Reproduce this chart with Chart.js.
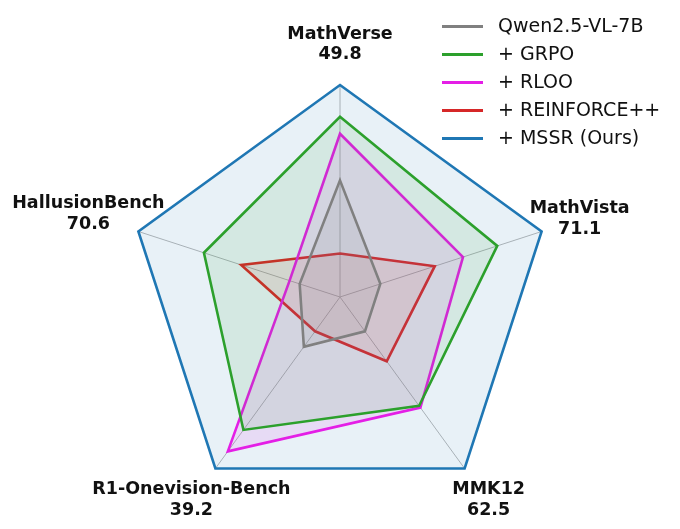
<!DOCTYPE html>
<html>
<head>
<meta charset="utf-8">
<script src="https://cdn.jsdelivr.net/npm/chart.js@4.4.1/dist/chart.umd.min.js"></script>
<style>
  html, body { margin: 0; padding: 0; background: #fff; }
  #wrap { position: relative; width: 680px; height: 529px; }
  #legend {
    position: absolute; left: 442px; top: 11px;
    font-family: "DejaVu Sans", sans-serif; font-size: 19px; color: #111;
  }
  .row { height: 28px; line-height: 28px; white-space: nowrap; }
  .swatch { display: inline-block; width: 41px; height: 3px; vertical-align: middle; margin-right: 15px; }
</style>
</head>
<body>
<div id="wrap">
  <canvas id="radar"></canvas>
  <div id="legend"></div>
</div>
<script>
// benchmark axes, clockwise from top
const benchmarks = ["MathVerse", "MathVista", "MMK12", "R1-Onevision-Bench", "HallusionBench"];
// MSSR scores printed under each axis name
const mssrScores = ["49.8", "71.1", "62.5", "39.2", "70.6"];

// plotted radius, relative to the MSSR score on each axis
const qwenVals   = [0.55, 0.20, 0.20, 0.29, 0.20];
const grpoVals   = [0.85, 0.78, 0.635, 0.775, 0.675];
const rlooVals   = [0.77, 0.61, 0.645, 0.90, 0.25];
const reinfVals  = [0.205, 0.47, 0.375, 0.20, 0.49];
const mssrVals   = [1, 1, 1, 1, 1];

const seriesNames  = ["Qwen2.5-VL-7B", "+ GRPO", "+ RLOO", "+ REINFORCE++", "+ MSSR (Ours)"];
const seriesColors = ["#808080", "#2ca02c", "#e41ee6", "#d62728", "#1f77b4"];
const seriesFills  = ["rgba(128,128,128,0.12)", "rgba(44,160,44,0.10)", "rgba(228,30,230,0.10)",
                      "rgba(214,39,40,0.10)", "rgba(31,119,180,0.10)"];
const seriesVals   = [qwenVals, grpoVals, rlooVals, reinfVals, mssrVals];

// legend (html, top right)
const legend = document.getElementById("legend");
seriesNames.forEach((name, i) => {
    const row = document.createElement("div");
    row.className = "row";
    const sw = document.createElement("span");
    sw.className = "swatch";
    sw.style.background = seriesColors[i];
    row.appendChild(sw);
    row.appendChild(document.createTextNode(name));
    legend.appendChild(row);
});

// axis names + scores, placed next to each outer vertex
const labelOffsets = [[0, -51], [38, -23], [24, 21], [-24, 21], [-50, -28]];
const axisLabels = {
    id: "axisLabels",
    afterDraw(chart) {
        const scale = chart.scales.r;
        const ctx = chart.ctx;
        ctx.save();
        ctx.fillStyle = "#111";
        ctx.font = "bold 17.5px 'DejaVu Sans', sans-serif";
        ctx.textAlign = "center";
        ctx.textBaseline = "middle";
        benchmarks.forEach((name, i) => {
            const p = scale.getPointPosition(i, scale.drawingArea);
            const x = p.x + labelOffsets[i][0];
            const y = p.y + labelOffsets[i][1];
            ctx.fillText(name, x, y);
            ctx.fillText(mssrScores[i], x, y + 20.5);
        });
        ctx.restore();
    }
};

const chart = new Chart(document.getElementById("radar"), {
    type: "radar",
    data: {
        labels: benchmarks,
        datasets: seriesVals.map((vals, i) => ({
            label: seriesNames[i],
            data: vals,
            borderColor: seriesColors[i],
            backgroundColor: seriesFills[i],
            borderWidth: 2.6,
            pointRadius: 0,
            fill: true,
            order: i,
        })),
    },
    options: {
        responsive: true,
        maintainAspectRatio: false,
        animation: false,
        layout: { padding: { top: 85, bottom: 20, left: 0, right: 0 } },
        plugins: {
            legend: { display: false },
            tooltip: { enabled: false },
        },
        scales: {
            r: {
                min: 0,
                max: 1,
                ticks: { display: false },
                grid: { display: false },
                angleLines: { display: true, color: "#b8b8b8", lineWidth: 1 },
                pointLabels: { display: false },
            },
        },
    },
    plugins: [axisLabels],
});
</script>
</body>
</html>
